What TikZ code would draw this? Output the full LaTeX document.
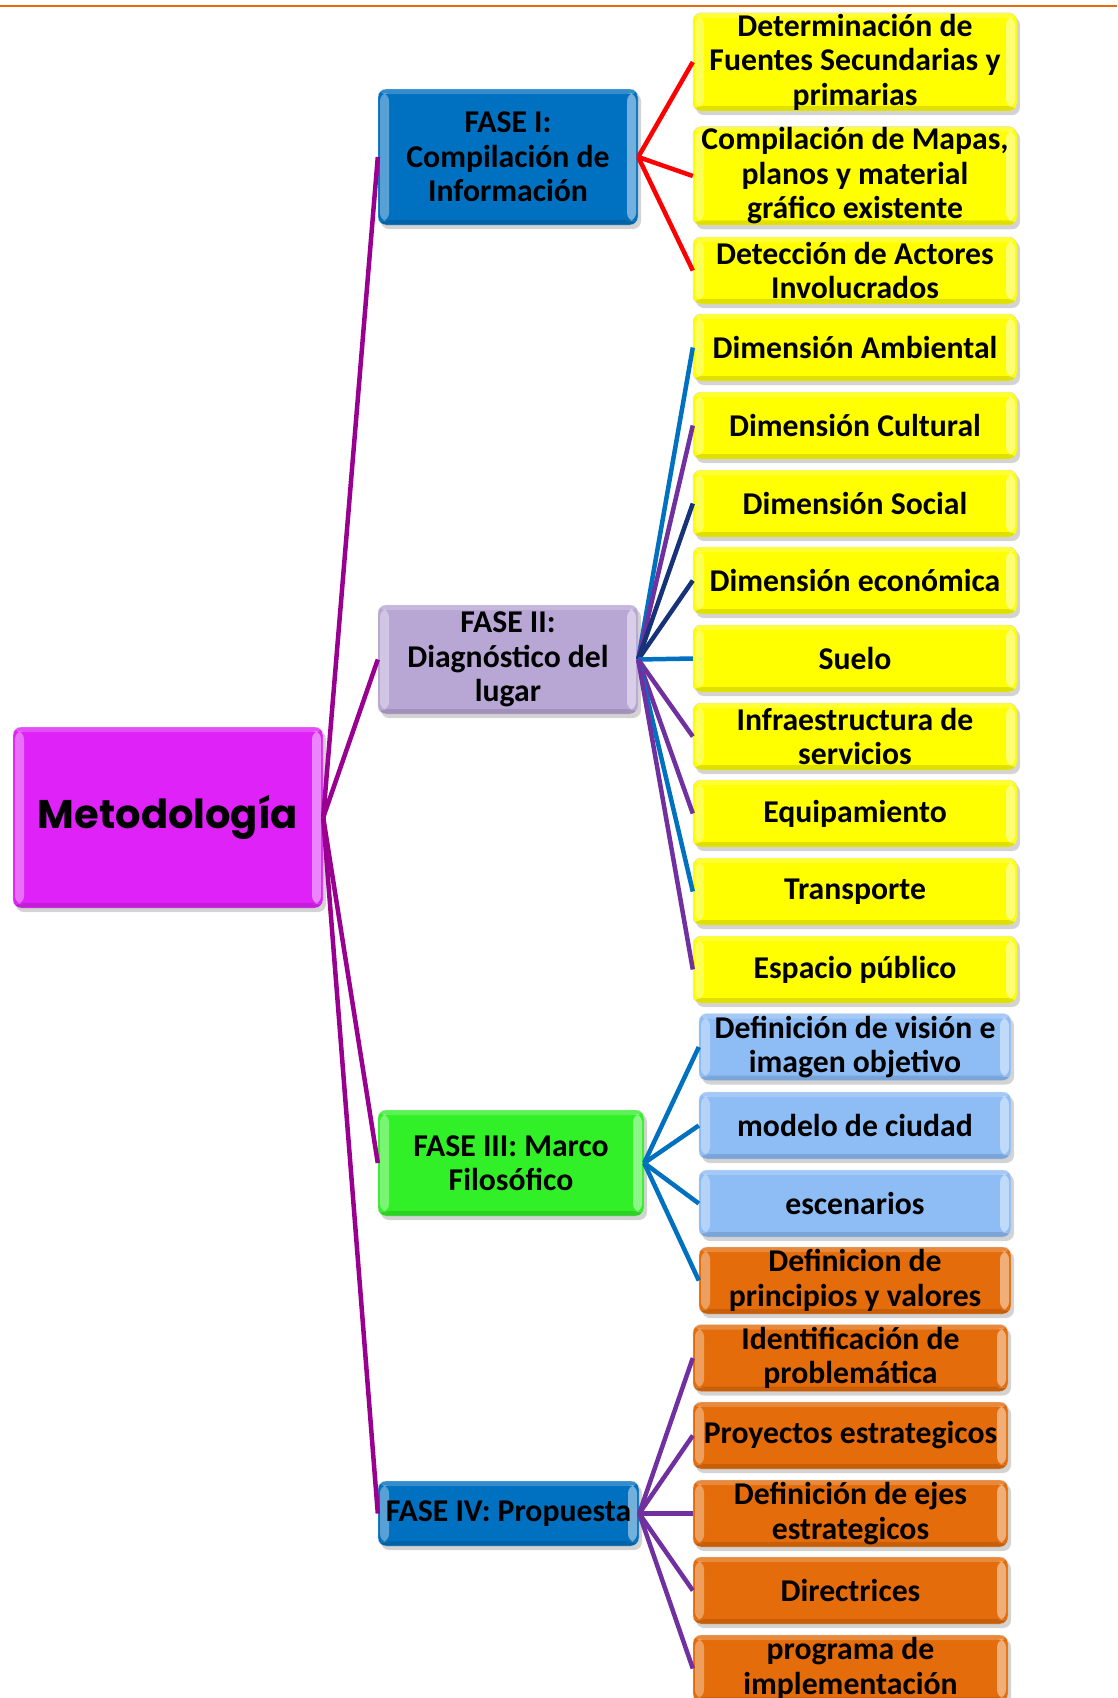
\documentclass[tikz,border=0pt]{standalone}
\usepackage{fontspec}
\setmainfont{Carlito}
\newfontfamily\titlefont{Poppins}
\usetikzlibrary{positioning}
\usetikzlibrary{shadows}

\definecolor{rootfill}{RGB}{222,34,248}
\definecolor{faseblue}{RGB}{0,112,192}
\definecolor{faselavender}{RGB}{184,166,212}
\definecolor{fasegreen}{RGB}{50,240,40}
\definecolor{leafyellow}{RGB}{255,255,0}
\definecolor{leafsky}{RGB}{142,188,245}
\definecolor{leaforange}{RGB}{228,108,10}
\definecolor{rootlinkcol}{RGB}{153,0,143}
\definecolor{linkred}{RGB}{255,0,0}
\definecolor{linkblue}{RGB}{0,112,192}
\definecolor{linkpurple}{RGB}{112,48,160}
\definecolor{linknavy}{RGB}{22,50,120}

% bevelled edges drawn inside every box
\newcommand*\boxbevel{%
    \fill[white,opacity=.35] ([xshift=2pt,yshift=-4pt]path picture bounding box.north west)
        rectangle ([xshift=11pt,yshift=4pt]path picture bounding box.south west);% left edge
    \fill[white,opacity=.45] ([xshift=-2pt,yshift=-4pt]path picture bounding box.north east)
        rectangle ([xshift=-11pt,yshift=4pt]path picture bounding box.south east);% right edge
    \fill[white,opacity=.2] (path picture bounding box.north west)
        rectangle ([yshift=-5pt]path picture bounding box.north east);% top edge
    \fill[black,opacity=.12] (path picture bounding box.south west)
        rectangle ([yshift=5pt]path picture bounding box.south east);% bottom edge
}

\begin{document}
\begin{tikzpicture}
    [%
        x=1pt,y=-1pt,%
        box/.style={%
            rounded corners=8pt,%
            draw=black!15,%
            align=center,%
            inner xsep=0pt,%
            inner ysep=1pt,%
            text=black,%
            font=\fontsize{31.7}{34.5}\selectfont\bfseries,%
            drop shadow={shadow xshift=3pt,shadow yshift=-4pt,opacity=.35},%
            path picture={\boxbevel}%
        },%
        phase/.style={%
            box,%
            minimum width=260%
        },%
        yellowleaf/.style={%
            box,%
            fill=leafyellow,%
            minimum width=324,%
            minimum height=67%
        },%
        skyleaf/.style={%
            box,%
            fill=leafsky,%
            minimum width=312,%
            minimum height=67%
        },%
        orangeleaf/.style={%
            box,%
            fill=leaforange,%
            minimum width=312,%
            minimum height=67%
        },%
        orangeleaf wide/.style={%
            orangeleaf,%
            minimum width=315,%
            xshift=-4.5pt%
        },%
        rootlink/.style={%
            draw=rootlinkcol,%
            line width=4.5pt%
        },%
        link/.style={%
            line width=4.5pt%
        }%
    ]%
%
    \useasboundingbox (0,0) rectangle (1117,1698);
    % orange rule on top of the page
    \draw[leaforange,line width=2pt] (0,6) -- (1117,6);
%
    \node[box,fill=rootfill,minimum width=310,minimum height=181,
        font=\fontsize{40}{46}\selectfont\titlefont\bfseries] (metodologia) at (168,817.5) {Metodología};
%
    \node[phase,fill=faseblue,minimum height=136] (fase1) at (508,157) {FASE I:\\Compilación de\\Información};
    \node[phase,fill=faselavender,minimum height=109] (fase2) at (508,659.5) {FASE II:\\Diagnóstico del\\lugar};
    \node[phase,fill=fasegreen,minimum width=266,minimum height=106] (fase3) at (511,1163) {FASE III: Marco\\Filosófico};
    \node[phase,fill=faseblue,minimum width=261,minimum height=65] (fase4) at (508.5,1513.5) {FASE IV: Propuesta};
%
    % the right column
    % \name node name
    % \kind box style
    % \y centre of the box
    \foreach \name/\kind/\y/\txt in {%
        fuentes/yellowleaf/62/{Determinación de\\Fuentes Secundarias y\\primarias},%
        mapas/yellowleaf/176/{Compilación de Mapas,\\planos y material\\gráfico existente},%
        actores/yellowleaf/270.5/{Detección de Actores\\Involucrados},%
        ambiental/yellowleaf/347.5/{Dimensión Ambiental},%
        cultural/yellowleaf/425.5/{Dimensión Cultural},%
        social/yellowleaf/503.5/{Dimensión Social},%
        economica/yellowleaf/580.5/{Dimensión económica},%
        suelo/yellowleaf/658.5/{Suelo},%
        infraestructura/yellowleaf/736.5/{Infraestructura de\\servicios},%
        equipamiento/yellowleaf/813.5/{Equipamiento},%
        transporte/yellowleaf/891.5/{Transporte},%
        espacio/yellowleaf/969.5/{Espacio público},%
        vision/skyleaf/1047/{Definición de visión e\\imagen objetivo},%
        modelo/skyleaf/1125.5/{modelo de ciudad},%
        escenarios/skyleaf/1203.5/{escenarios},%
        principios/orangeleaf/1280.5/{Definicion de\\principios y valores},%
        problematica/orangeleaf wide/1358/{Identificación de\\problemática},%
        proyectos/orangeleaf wide/1435.5/{Proyectos estrategicos},%
        ejes/orangeleaf wide/1513.5/{Definición de ejes\\estrategicos},%
        directrices/orangeleaf wide/1590.5/{Directrices},%
        programa/orangeleaf wide/1668.5/{programa de\\implementación}%
    }
        \node[\kind] (\name) at (855,\y) {\txt};
%
    % root to the four phases
    \foreach \phase in {fase1,fase2,fase3,fase4}
        \draw[rootlink] (metodologia.east) -- (\phase.west);
%
    % phases to their boxes
    % \Links leaf/colour pairs of one phase
    \foreach \phase/\Links in {%
        fase1/{fuentes/linkred,mapas/linkred,actores/linkred},%
        fase2/{ambiental/linkblue,cultural/linkpurple,social/linknavy,economica/linknavy,%
            suelo/linkblue,infraestructura/linkpurple,equipamiento/linkpurple,%
            transporte/linkblue,espacio/linkpurple},%
        fase3/{vision/linkblue,modelo/linkblue,escenarios/linkblue,principios/linkblue},%
        fase4/{problematica/linkpurple,proyectos/linkpurple,ejes/linkpurple,%
            directrices/linkpurple,programa/linkpurple}%
    }{
        \foreach \leaf/\col in \Links {
            \draw[link,draw=\col] (\phase.east) -- (\leaf.west);
        } % \foreach \leaf/\col
    } % \foreach \phase/\Links
\end{tikzpicture}
\end{document}
